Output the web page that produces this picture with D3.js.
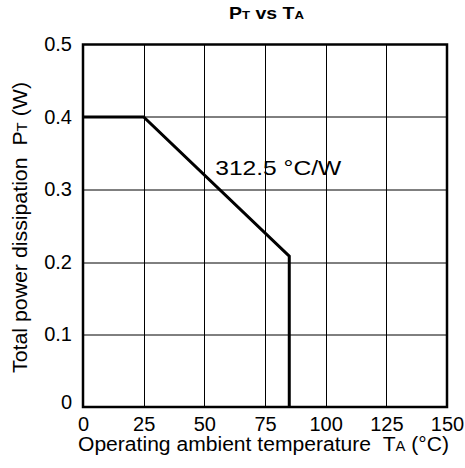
<!DOCTYPE html>
<html>
<head>
<meta charset="utf-8">
<script src="https://cdn.jsdelivr.net/npm/d3@7"></script>
<style>
  body { margin: 0; background: #fff; }
  text { font-family: "Liberation Sans", Arial, sans-serif; fill: #000; }
</style>
</head>
<body>
<div id="chart"></div>
<script>
// ---- data ----
var tempTicks = [0, 25, 50, 75, 100, 125, 150];
var powerTicks = [0, 0.1, 0.2, 0.3, 0.4, 0.5];
// derating curve: temperature (°C) -> total power dissipation (W)
var curveTemp = [0, 25, 85, 85];
var curvePower = [0.4, 0.4, 0.208, 0];
var slopeLabel = "312.5 °C/W";

// ---- canvas ----
var svgWidth = 465, svgHeight = 468;
var margin = {left: 83, right: 18, top: 44.5, bottom: 61};
var w = svgWidth - margin.left - margin.right,
    h = svgHeight - margin.top - margin.bottom;

var svg = d3.select("#chart").append("svg")
  .attr("width", svgWidth)
  .attr("height", svgHeight);

var g = svg.append("g")
  .attr("transform", `translate(${margin.left}, ${margin.top})`);

// ---- scales ----
var x = d3.scaleLinear().domain([0, 150]).range([0, w]);
var y = d3.scaleLinear().domain([0, 0.5]).range([h, 0]);

// ---- grid ----
g.append("g").selectAll("line")
  .data(tempTicks.slice(1, -1))
  .enter().append("line")
    .attr("x1", d => Math.round(x(d)) + 0.5).attr("x2", d => Math.round(x(d)) + 0.5)
    .attr("y1", 0).attr("y2", h)
    .attr("stroke", "#000").attr("stroke-width", 1);

g.append("g").selectAll("line")
  .data(powerTicks.slice(1, -1))
  .enter().append("line")
    .attr("y1", d => Math.round(y(d)) + 0.5).attr("y2", d => Math.round(y(d)) + 0.5)
    .attr("x1", 0).attr("x2", w)
    .attr("stroke", "#000").attr("stroke-width", 1);

// ---- axes (labels only, frame drawn below) ----
var xAxis = d3.axisBottom(x).tickValues(tempTicks).tickSize(0).tickPadding(10);
var yAxis = d3.axisLeft(y).tickValues(powerTicks).tickSize(0).tickPadding(11)
  .tickFormat(d => d === 0 ? "0" : d3.format(".1f")(d));

var gx = g.append("g").attr("transform", `translate(0, ${h})`).call(xAxis);
var gy = g.append("g").call(yAxis);
[gx, gy].forEach(function(a) {
  a.select(".domain").remove();
  a.selectAll("text").style("font-size", "20px").style("font-family", "Liberation Sans, Arial, sans-serif");
});
gy.selectAll("text").filter(d => d === 0).attr("dy", "0.05em");

// ---- curve ----
var pts = curveTemp.map((t, i) => [t, curvePower[i]]);
g.append("path")
  .datum(pts)
  .attr("d", d3.line().x(d => x(d[0])).y(d => y(d[1])))
  .attr("fill", "none")
  .attr("stroke", "#000")
  .attr("stroke-width", 3);

// slope annotation (text is slightly wide in the original)
g.append("text")
  .attr("x", x(54.5))
  .attr("y", y(0.32))
  .attr("textLength", 126)
  .attr("lengthAdjust", "spacingAndGlyphs")
  .style("font-size", "21px")
  .text(slopeLabel);

// ---- frame ----
g.append("rect")
  .attr("width", w).attr("height", h)
  .attr("fill", "none")
  .attr("stroke", "#000")
  .attr("stroke-width", 2.5);

// ---- titles ----
var title = svg.append("text")
  .attr("x", 229)
  .attr("y", 19)
  .attr("textLength", 75)
  .attr("lengthAdjust", "spacingAndGlyphs")
  .style("font-size", "17px")
  .style("font-weight", "bold");
title.append("tspan").text("P");
title.append("tspan").style("font-size", "11.5px").text("T");
title.append("tspan").text(" vs T");
title.append("tspan").style("font-size", "11.5px").text("A");

var xl = svg.append("text")
  .attr("x", 78)
  .attr("y", 451)
  .attr("textLength", 371)
  .attr("lengthAdjust", "spacingAndGlyphs")
  .style("font-size", "20px");
xl.append("tspan").text("Operating ambient temperature\u00a0\u00a0T");
xl.append("tspan").style("font-size", "14px").text("A");
xl.append("tspan").text(" (°C)");

var yl = svg.append("text")
  .attr("transform", "translate(27, 373) rotate(-90)")
  .attr("textLength", 291)
  .attr("lengthAdjust", "spacingAndGlyphs")
  .style("font-size", "20px");
yl.append("tspan").text("Total power dissipation\u00a0\u00a0P");
yl.append("tspan").style("font-size", "14px").text("T");
yl.append("tspan").text(" (W)");
</script>
</body>
</html>
